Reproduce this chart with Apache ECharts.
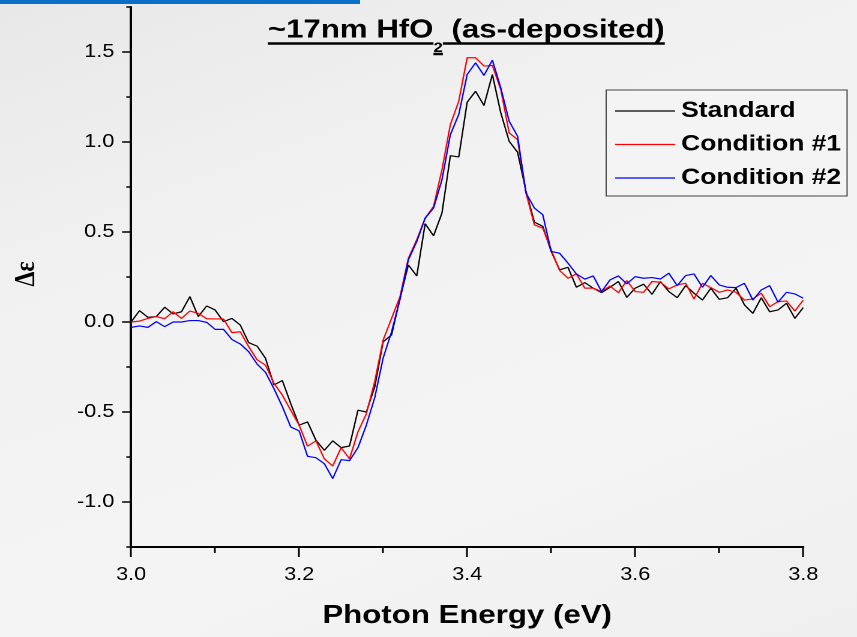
<!DOCTYPE html>
<html><head><meta charset="utf-8">
<script src="https://cdn.jsdelivr.net/npm/echarts@6/dist/echarts.min.js"></script>
<style>
html,body{margin:0;padding:0;width:857px;height:637px;overflow:hidden;}
body{background:linear-gradient(160deg,#e8e8e8 0%,#f2f2f2 35%,#f4f4f4 70%,#efefef 100%);}
#wrap{position:absolute;left:0;top:0;width:714px;height:637px;transform:scaleX(1.2003);transform-origin:0 0;}
</style></head><body><div id="wrap"></div>
<script>
const energy = [3.00,3.01,3.02,3.03,3.04,3.05,3.06,3.07,3.08,3.09,3.10,3.11,3.12,3.13,3.14,3.15,3.16,3.17,3.18,3.19,3.20,
3.21,3.22,3.23,3.24,3.25,3.26,3.27,3.28,3.29,3.30,3.31,3.32,3.33,3.34,3.35,3.36,3.37,3.38,3.39,3.40,
3.41,3.42,3.43,3.44,3.45,3.46,3.47,3.48,3.49,3.50,3.51,3.52,3.53,3.54,3.55,3.56,3.57,3.58,3.59,3.60,
3.61,3.62,3.63,3.64,3.65,3.66,3.67,3.68,3.69,3.70,3.71,3.72,3.73,3.74,3.75,3.76,3.77,3.78,3.79,3.80];

const standard = [0.000,0.063,0.026,0.030,0.082,0.045,0.057,0.141,0.030,0.089,0.067,0.002,0.020,-0.017,-0.115,-0.134,-0.202,-0.350,-0.325,-0.453,-0.573,
-0.555,-0.657,-0.713,-0.660,-0.698,-0.689,-0.490,-0.500,-0.360,-0.110,-0.072,0.130,0.317,0.256,0.546,0.479,0.605,0.924,0.917,1.221,
1.282,1.203,1.375,1.162,1.004,0.943,0.726,0.555,0.531,0.392,0.290,0.304,0.193,0.219,0.188,0.163,0.193,0.225,0.137,0.188,
0.210,0.154,0.225,0.169,0.135,0.202,0.160,0.122,0.188,0.126,0.135,0.188,0.095,0.048,0.135,0.057,0.067,0.104,0.020,0.080];

const condition1 = [0.000,0.005,0.020,0.030,0.018,0.057,0.020,0.061,0.048,0.018,0.017,0.017,-0.059,-0.054,-0.137,-0.210,-0.240,-0.340,-0.406,-0.490,-0.573,
-0.690,-0.660,-0.760,-0.800,-0.698,-0.760,-0.610,-0.510,-0.330,-0.100,0.020,0.140,0.354,0.457,0.577,0.642,0.846,1.097,1.227,1.468,
1.468,1.422,1.425,1.292,1.051,1.013,0.717,0.540,0.521,0.401,0.286,0.243,0.267,0.188,0.188,0.169,0.200,0.163,0.230,0.169,
0.165,0.225,0.221,0.184,0.206,0.215,0.128,0.215,0.191,0.165,0.178,0.165,0.122,0.128,0.160,0.085,0.113,0.117,0.061,0.122];

const condition2 = [-0.030,-0.022,-0.030,0.002,-0.026,0.000,0.000,0.008,0.008,-0.002,-0.041,-0.041,-0.097,-0.122,-0.165,-0.234,-0.280,-0.370,-0.470,-0.583,-0.605,
-0.746,-0.754,-0.787,-0.870,-0.765,-0.770,-0.698,-0.573,-0.420,-0.200,-0.055,0.125,0.345,0.447,0.577,0.633,0.790,1.041,1.153,1.375,
1.440,1.370,1.455,1.301,1.115,1.032,0.717,0.633,0.596,0.392,0.382,0.327,0.267,0.238,0.256,0.169,0.234,0.256,0.212,0.252,
0.243,0.247,0.239,0.271,0.202,0.258,0.267,0.193,0.258,0.206,0.193,0.191,0.215,0.122,0.178,0.202,0.110,0.165,0.156,0.132];

const seriesNames = ['Standard','Condition #1','Condition #2'];
const seriesColors = ['#000000','#ff0000','#0000ff'];
const yMajorTicks = [-1.0,-0.5,0.0,0.5,1.0,1.5];
const yMinorTicks = [-1.25,-0.75,-0.25,0.25,0.75,1.25,1.75];
const titleParts = ['~17nm HfO','2',' (as-deposited)'];
const xName = 'Photon Energy (eV)';
const yName = '\u0394\u03b5';

const F = '"Liberation Sans", Arial, sans-serif';
const ctx = document.createElement('canvas').getContext('2d');
function tw(t, font){ ctx.font = font; return ctx.measureText(t).width; }
const w1 = tw(titleParts[0], 'bold 26px ' + F);
const w2 = tw(titleParts[1], 'bold 14px ' + F);
const w3 = tw(titleParts[2], 'bold 26px ' + F);
const tcx = 388.5;
const tx0 = tcx - (w1 + w2 + w3) / 2;

function pairs(v){ return energy.map((e, i) => [e, v[i]]); }
const allVals = [standard, condition1, condition2];

const chart = echarts.init(document.getElementById('wrap'), null, {renderer:'canvas', devicePixelRatio:2});
const option = {
  backgroundColor: 'transparent',
  animation: false,
  grid: {left:109.2, right:44.8, top:7, bottom:90, containLabel:false},
  legend: {
    orient:'vertical', left:505, top:90,
    padding:[9,5,6,7.5], itemGap:9.5,
    itemWidth:50, itemHeight:1.3, icon:'rect',
    borderColor:'#444', borderWidth:1, backgroundColor:'rgba(255,255,255,0.15)',
    textStyle:{fontFamily:F, fontWeight:'bold', fontSize:22, color:'#000', lineHeight:24},
    data: seriesNames
  },
  xAxis: {
    type:'value', min:3.0, max:3.8, interval:0.2,
    axisLine:{show:true, onZero:false, lineStyle:{color:'#000', width:2}},
    axisTick:{show:true, length:10, lineStyle:{color:'#000', width:1.5}},
    minorTick:{show:true, splitNumber:2, length:6, lineStyle:{color:'#000', width:1.5}},
    axisLabel:{margin:19, fontFamily:F, fontSize:18, color:'#000', formatter:v => v.toFixed(1)},
    splitLine:{show:false}, minorSplitLine:{show:false},
    name:xName, nameLocation:'middle', nameGap:56,
    nameTextStyle:{fontFamily:F, fontWeight:'bold', fontSize:26, color:'#000'}
  },
  yAxis: [{
    type:'value', min:-1.25, max:1.75, position:'left',
    axisLine:{show:true, lineStyle:{color:'#000', width:2}},
    axisTick:{show:true, length:7.5, customValues:yMajorTicks, lineStyle:{color:'#000', width:1.5}},
    axisLabel:{margin:14, fontFamily:F, fontSize:18, color:'#000', customValues:yMajorTicks, formatter:v => v.toFixed(1)},
    splitLine:{show:false}
  },{
    type:'value', min:-1.25, max:1.75, position:'left',
    axisLine:{show:false},
    axisTick:{show:true, length:4, customValues:yMinorTicks, lineStyle:{color:'#000', width:1.5}},
    axisLabel:{show:false},
    splitLine:{show:false}
  }],
  series: seriesNames.map((n, i) => ({
    name:n, type:'line', yAxisIndex:0, data:pairs(allVals[i]),
    showSymbol:false, symbol:'none', smooth:false,
    lineStyle:{color:seriesColors[i], width:1.2}, itemStyle:{color:seriesColors[i]},
    z:2+i
  })),
  graphic: [
    {type:'rect', left:0, top:0, shape:{x:0,y:0,width:300,height:4}, style:{fill:'#0b6fc6'}, z:10},
    {type:'text', x:tx0, y:30.5, style:{text:titleParts[0], font:'bold 26px ' + F, fill:'#000', align:'left', verticalAlign:'middle'}},
    {type:'text', x:tx0 + w1, y:48, style:{text:titleParts[1], font:'bold 14px ' + F, fill:'#000', align:'left', verticalAlign:'middle'}},
    {type:'text', x:tx0 + w1 + w2, y:30.5, style:{text:titleParts[2], font:'bold 26px ' + F, fill:'#000', align:'left', verticalAlign:'middle'}},
    {type:'line', shape:{x1:tx0, y1:43.5, x2:tx0 + w1, y2:43.5}, style:{stroke:'#000', lineWidth:2.5}},
    {type:'line', shape:{x1:tx0 + w1, y1:54, x2:tx0 + w1 + w2, y2:54}, style:{stroke:'#000', lineWidth:2.5}},
    {type:'line', shape:{x1:tx0 + w1 + w2, y1:43.5, x2:tx0 + w1 + w2 + w3, y2:43.5}, style:{stroke:'#000', lineWidth:2.5}},
    {type:'text', x:22.5, y:274, rotation:Math.PI/2, style:{text:yName, font:'bold 24px "Liberation Serif", "DejaVu Serif", serif', fill:'#000', align:'center', verticalAlign:'middle'}}
  ]
};
chart.setOption(option);
</script>
</body></html>
